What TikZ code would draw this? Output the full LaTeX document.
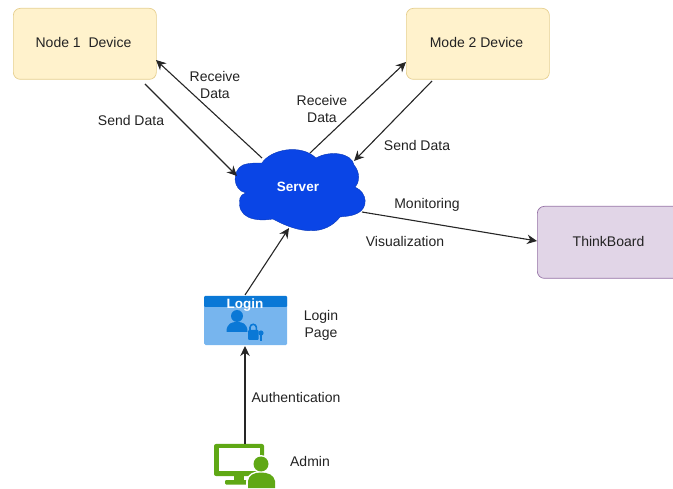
\documentclass[tikz,border=0pt]{standalone}
\usepackage{fontspec}
\setmainfont{Liberation Sans}
\usetikzlibrary{arrows.meta}
\definecolor{boxfill}{HTML}{FFF2CC}
\definecolor{boxline}{HTML}{E6CF8F}
\definecolor{purplefill}{HTML}{E1D5E7}
\definecolor{purpleline}{HTML}{9673A6}
\definecolor{cloudblue}{HTML}{0A45E6}
\definecolor{loginlight}{HTML}{77B5EE}
\definecolor{logindark}{HTML}{0A78D6}
\definecolor{admingreen}{HTML}{5FA815}
\definecolor{txt}{HTML}{222222}
\tikzset{
  device/.style={draw=boxline,fill=boxfill,rounded corners=7pt,minimum width=143pt,minimum height=71pt,inner sep=0pt,line width=.7pt,text=txt},
  board/.style={draw=purpleline,fill=purplefill,rounded corners=7pt,minimum width=143pt,minimum height=72pt,inner sep=0pt,line width=.7pt,text=txt},
  lab/.style={text=txt,font=\fontsize{14}{17}\selectfont,align=center,inner sep=0pt},
  conn/.style={draw=black!85,line width=1.1pt,-{Stealth[length=10pt,width=9.5pt]}}
}
\begin{document}
\begin{tikzpicture}[x=1pt,y=-1pt]
\useasboundingbox (0,0) rectangle (673,489);
\node[device,anchor=north west] (node1) at (13,8) {};
\node[device,anchor=north west] (mode2) at (406,8) {};
\node[board,anchor=north west] (think) at (537,206) {};
\node[lab] (node1txt) at (83.5,42) {Node 1\ \ Device};
\node[lab] (mode2txt) at (476.5,42) {Mode 2 Device};
\node[lab] (thinktxt) at (608.5,241) {ThinkBoard};
% cloud
\fill[cloudblue,draw=cloudblue!80!black,line width=.4pt]
 (262,163) .. controls (270,150) and (300,143) .. (316,158)
 .. controls (330,150) and (352,153) .. (354,165)
 .. controls (360,172) and (360,182) .. (355,187)
 .. controls (368,193) and (368,208) .. (358,213)
 .. controls (350,217) and (345,216) .. (340,217)
 .. controls (325,236) and (300,234) .. (273,219)
 .. controls (255,222) and (236,218) .. (240,198)
 .. controls (241,195) and (243,194) .. (246,193)
 .. controls (232,190) and (232,170) .. (243,165)
 .. controls (248,163) and (255,163) .. (262,163) -- cycle;
\node[text=white,font=\fontsize{13.5}{15}\selectfont\bfseries,inner sep=0pt] (server) at (298,187) {Server};
% login icon
\node[fill=loginlight,rounded corners=1.5pt,minimum width=83pt,minimum height=49pt,inner sep=0pt,anchor=north west] (login) at (204,296) {};
\fill[logindark,rounded corners=1pt] (204,296) rectangle (287,307);
\fill[logindark] (237,316) circle (6);
\fill[logindark] (226.5,332) .. controls (226.5,323) and (232,322) .. (237,322) .. controls (242,322) and (247.5,323) .. (247.5,332) -- cycle;
\node[text=white,font=\fontsize{13.5}{15}\selectfont\bfseries,inner sep=0pt] (logintxt) at (245,305) {Login};
\draw[logindark,line width=1.6pt] (250,331) -- (250,327.5) arc[start angle=180,end angle=360,radius=3.2] -- (256.4,331);
\fill[logindark,rounded corners=1pt] (248,330) rectangle (258.5,340);
\fill[logindark] (261,333) circle (2.6);
\fill[logindark] (260,334) rectangle (262,341);
% admin icon
\fill[admingreen,rounded corners=2pt] (214,444) rectangle (264,476);
\fill[white] (218.5,448.5) rectangle (259.5,471);
\fill[admingreen] (234,476) rectangle (244,481);
\fill[admingreen,rounded corners=1pt] (225,480) rectangle (252,484.5);
\fill[white] (261,464) circle (9);
\fill[white] (246,488) -- (246,481) .. controls (247,474) and (254,471) .. (261,471) .. controls (268,471) and (277,474) .. (277,481) -- (277,488) -- cycle;
\fill[admingreen] (261,464) circle (7.5);
\fill[admingreen] (248,488) -- (248,481) .. controls (249,475) and (254,472.5) .. (261,472.5) .. controls (268,472.5) and (274,475) .. (275,481) -- (275,488) -- cycle;
\node[inner sep=0pt,minimum size=0pt] (admin) at (245,444) {};
% connector ends
\coordinate (a1) at (145,84);
\coordinate (a2) at (237,176);
\coordinate (b1) at (262,158);
\coordinate (b2) at (156,60);
\coordinate (c1) at (310,153);
\coordinate (c2) at (406,62);
\coordinate (d1) at (432,81);
\coordinate (d2) at (354,161);
\coordinate (e1) at (362,212);
\coordinate (e2) at (537,241);
\coordinate (f1) at (245,295);
\coordinate (f2) at (289,228);
\coordinate (g2) at (245,346);
\draw[conn] (a1) -- (a2);
\draw[conn] (b1) -- (b2);
\draw[conn] (c1) -- (c2);
\draw[conn] (d1) -- (d2);
\draw[conn] (e1) -- (e2);
\draw[conn] (f1) -- (f2);
\draw[conn] (admin) -- (g2);
% labels
\node[lab] (l1) at (215,85) {Receive\\Data};
\node[lab] (l2) at (131,120) {Send Data};
\node[lab] (l3) at (322,109) {Receive\\Data};
\node[lab] (l4) at (417,145) {Send Data};
\node[lab] (l5) at (427,205) {Monitoring};
\node[lab] (l6) at (405,241) {Visualization};
\node[lab] (l7) at (321,325.5) {Login\\Page};
\node[lab] (l8) at (296,397) {Authentication};
\node[lab] (l9) at (310,461) {Admin};
\end{tikzpicture}
\end{document}
